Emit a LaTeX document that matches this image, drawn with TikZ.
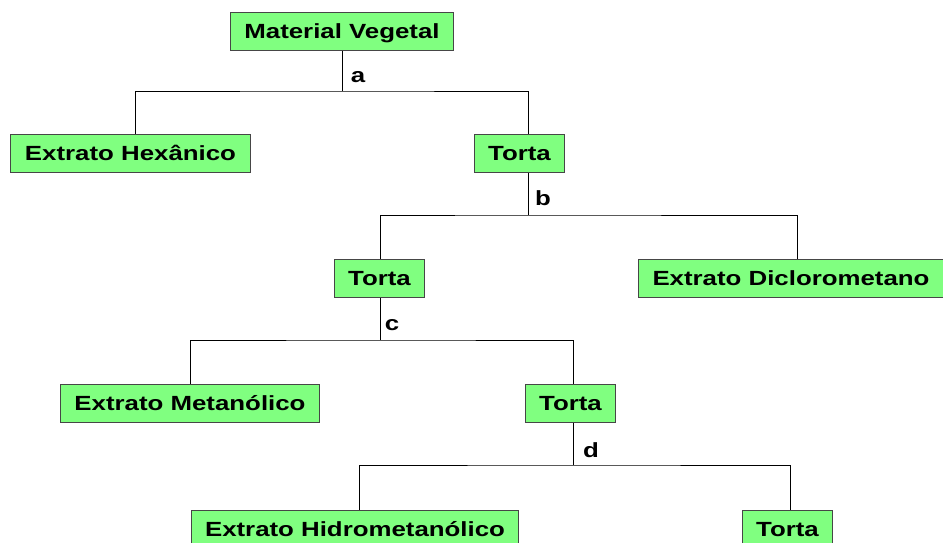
\documentclass[tikz,border=0pt]{standalone}
\usepackage{fontspec}
\setmainfont{Liberation Sans}[FakeStretch=1.26]
\definecolor{boxgreen}{RGB}{128,255,128}
\definecolor{boxline}{RGB}{70,70,70}
\tikzset{every picture/.style={line width=0.75pt}}
\tikzset{
  etapa/.style={draw=boxline, fill=boxgreen, line width=1pt, inner xsep=14pt, inner ysep=0pt,
    minimum height=38pt, text height=15pt, text depth=0pt,
    font=\fontsize{20.5}{24}\selectfont\bfseries},
  letra/.style={font=\fontsize{20.5}{24}\selectfont\bfseries, inner sep=0pt},
  ramo/.style={draw=black, line width=1pt}
}
\begin{document}
\begin{tikzpicture}[x=1pt,y=1pt,yscale=-1,xscale=1]
\useasboundingbox (0,0) rectangle (943,542);

% Text Node
\node [etapa] (mv) at (342,31) {Material Vegetal};
% Text Node
\node [etapa] (eh) at (130.5,153) {Extrato Hexânico};
% Text Node
\node [etapa] (t1) at (519.5,153) {Torta};
% Text Node
\node [etapa] (t2) at (379.5,278) {Torta};
% Text Node
\node [etapa] (ed) at (791,278) {Extrato Diclorometano};
% Text Node
\node [etapa] (em) at (190,403) {Extrato Metanólico};
% Text Node
\node [etapa] (t3) at (570.5,403) {Torta};
% Text Node
\node [etapa] (ehm) at (355,529) {Extrato Hidrometanólico};
% Text Node
\node [etapa] (t4) at (787.5,529) {Torta};

%Junctions
\coordinate (ja) at (342,91);
\coordinate (jb) at (528,215);
\coordinate (jc) at (380,340);
\coordinate (jd) at (573,465);

%Straight Lines a
\draw [ramo] (mv.south) -- (ja);
\draw [ramo] ([xshift=4.5pt]eh.north) |- (ja) -| ([xshift=8.5pt]t1.north);
%Straight Lines b
\draw [ramo] ([xshift=8.5pt]t1.south) -- (jb);
\draw [ramo] ([xshift=0.5pt]t2.north) |- (jb) -| ([xshift=6pt]ed.north);
%Straight Lines c
\draw [ramo] ([xshift=0.5pt]t2.south) -- (jc);
\draw [ramo] (em.north) |- (jc) -| ([xshift=2.5pt]t3.north);
%Straight Lines d
\draw [ramo] ([xshift=2.5pt]t3.south) -- (jd);
\draw [ramo] ([xshift=4pt]ehm.north) |- (jd) -| ([xshift=2.5pt]t4.north);

% Text Node
\node [letra] (la) at (358,77) {a};
% Text Node
\node [letra] (lb) at (543,198) {b};
% Text Node
\node [letra] (lc) at (392,325) {c};
% Text Node
\node [letra] (ld) at (591,450) {d};

\end{tikzpicture}
\end{document}
